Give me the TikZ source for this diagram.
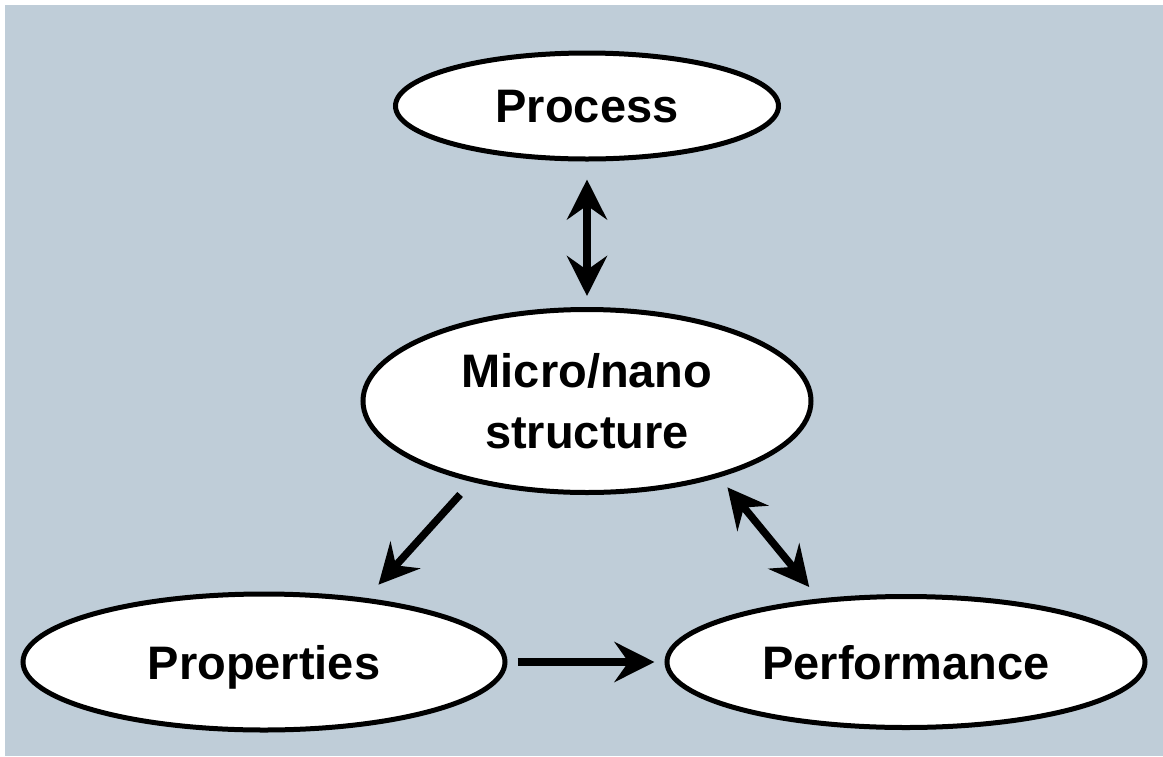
\documentclass[tikz,border=0pt]{standalone}
\usepackage{fontspec}
\setmainfont{Liberation Sans}
\usepackage{tikz}
\usetikzlibrary{positioning,shapes,arrows.meta}
\definecolor{bgblue}{RGB}{191,205,216}
\tikzstyle{ell}=[draw, ellipse, fill=white, line width=5pt, inner sep=0pt, text depth=0pt, align=center, font=\bfseries\fontsize{47}{61}\selectfont]
\tikzstyle{link}=[line width=7.5pt]

\begin{document}
\begin{tikzpicture}[x=1pt,y=-1pt,>={Stealth[length=40pt,width=40pt,inset=14pt]}]

\fill[white] (0,0) rectangle (1163,756);
\fill[bgblue] (5,5) rectangle (1163,756);
\useasboundingbox (0,0) rectangle (1163,756);

\node[ell, minimum width=383pt, minimum height=106pt] at (587,106) (proc) {Process};
\node[ell, below of = proc, node distance = 295pt, minimum width=448pt, minimum height=183pt] (micro) {Micro/nano\\structure};
\node[ell, minimum width=482pt, minimum height=136pt] at (264,662) (prop) {Properties};
\node[ell, right of = prop, node distance = 642pt, minimum width=478pt, minimum height=131pt] (perf) {Performance};

\draw[<->,link, shorten <=18pt, shorten >=11pt] (proc) -- (micro);
\draw[->,link, shorten <=17pt, shorten >=18pt] (micro.215) -- (prop.32);
\draw[<->,link, shorten <=13pt, shorten >=15pt] (micro.330) -- (perf.144);
%\draw[->,link] (prop) -- (perf);
\draw[->,link, shorten <=10pt, shorten >=10pt] (prop) -- (perf);
\end{tikzpicture}
\end{document}
